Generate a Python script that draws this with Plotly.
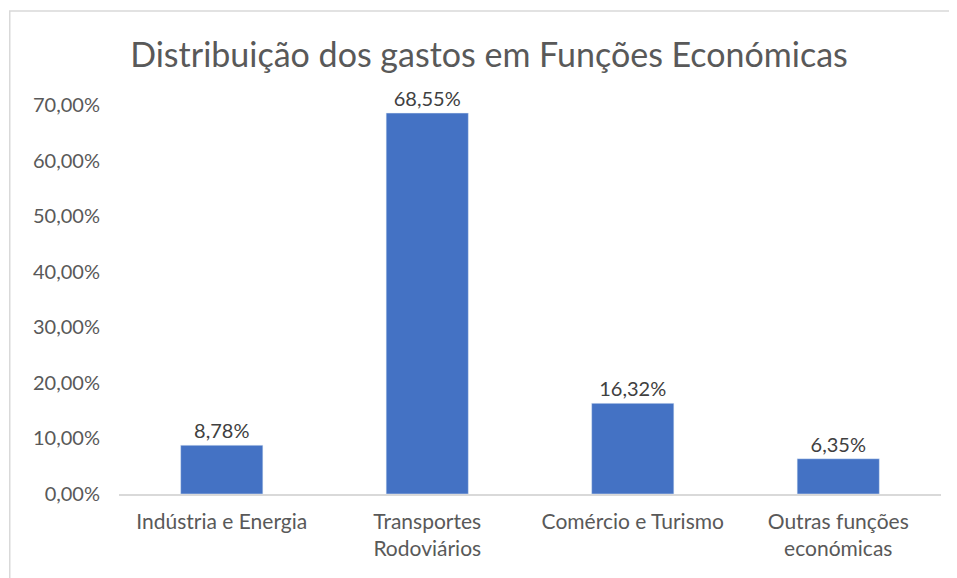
import plotly.graph_objects as go

categories = ["Indústria e Energia", "Transportes<br>Rodoviários", "Comércio e Turismo", "Outras funções<br>económicas"]
values = [0.0878, 0.6855, 0.1632, 0.0635]
y_ticks = [0, 0.1, 0.2, 0.3, 0.4, 0.5, 0.6, 0.7]
title_text = "Distribuição dos gastos em Funções Económicas"

OFF = 8  # default page body margin
W, H = 957, 578
PL, PR, PT, PB = 119.25, 941.25, 105, 494  # plot area in page pixels

fig = go.Figure(go.Bar(
    x=categories,
    y=values,
    marker_color="#4472C4",
    texttemplate="%{y:.2%}",
    textposition="outside",
    textfont=dict(family="Lato", size=20, color="#404040"),
    cliponaxis=False,
))

fig.update_layout(
    width=W, height=H,
    separators=",.",
    paper_bgcolor="white", plot_bgcolor="white",
    margin=dict(l=PL - OFF, r=W + OFF - PR, t=PT - OFF, b=H + OFF - PB),
    bargap=0.6,
    showlegend=False,
    title=dict(text=title_text, x=(489 - OFF) / W, xanchor="center", y=1 - (55 - OFF) / H, yanchor="middle",
               font=dict(family="Lato", size=34, color="#595959")),
    font=dict(family="Lato", color="#595959"),
)
fig.update_xaxes(showgrid=False, showline=True, linecolor="#d9d9d9", linewidth=1.5,
                 tickfont=dict(family="Lato", size=21, color="#595959"), ticks="",
                 ticklabelstandoff=8)
fig.update_yaxes(range=[0, 0.7], tickvals=y_ticks, tickformat=".2%", showgrid=False,
                 zeroline=False, showline=False, ticklabelstandoff=18,
                 tickfont=dict(family="Lato", size=20, color="#595959"))
fig.add_shape(type="rect", xref="paper", yref="paper",
              x0=(10 - PL) / (PR - PL), x1=1.2, y0=-0.4, y1=(PB - 11) / (PB - PT),
              line=dict(color="#d9d9d9", width=1.5), fillcolor="rgba(0,0,0,0)", layer="below")
fig.write_html("out.html")
